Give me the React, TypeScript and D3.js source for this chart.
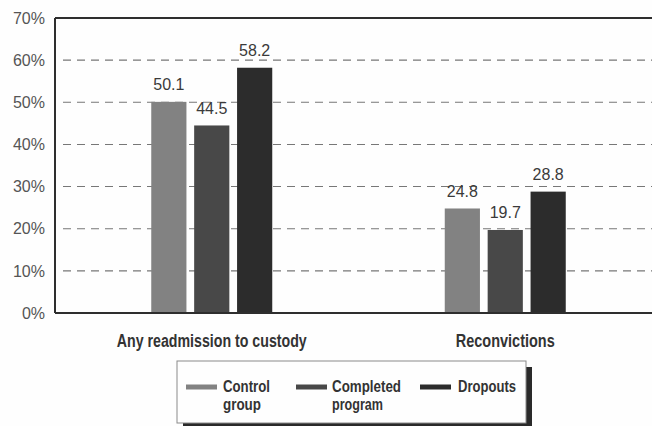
import React from "react";
import * as d3 from "d3";

// Outcome categories and the three comparison groups
const categories = ["Any readmission to custody", "Reconvictions"];
const seriesNames = ["Control group", "Completed program", "Dropouts"];
const controlValues = [50.1, 24.8];
const completedValues = [44.5, 19.7];
const dropoutValues = [58.2, 28.8];
const yTicks = [0, 10, 20, 30, 40, 50, 60, 70];
const legendLines = [["Control", "group"], ["Completed", "program"], ["Dropouts"]];

const seriesValues = [controlValues, completedValues, dropoutValues];
const seriesColors = ["#828282", "#484848", "#2c2c2c"];

const W = 652;
const H = 426;
const plotLeft = 55;
const plotTop = 18;
const plotBottom = 313;
const plotRight = 652;

const narrow = "'Liberation Sans Narrow', 'Arial Narrow', sans-serif";
const regular = "'Liberation Sans', Arial, sans-serif";

export default function App() {
  const y = d3.scaleLinear().domain([0, 70]).range([plotBottom, plotTop]);
  const x0 = d3.scaleBand<string>().domain(categories).range([65, plotRight]).padding(0);
  const groupWidth = 121;
  const x1 = d3.scaleBand<string>().domain(seriesNames).range([0, groupWidth]).paddingInner(0.18);

  const legendSwatchX = [186, 296, 420];
  const legendTextX = [223, 332, 458];
  const legendWidths = [[47, 38], [69, 51], [58]];
  const labelWidths = [190, 99];

  return (
    <svg
      width={W}
      height={H}
      style={{ position: "absolute", left: 0, top: 0, background: "#fefefe" }}
    >
      {/* dashed gridlines */}
      {yTicks
        .filter((t) => t > 0 && t < 70)
        .map((t) => (
          <line
            key={"g" + t}
            x1={plotLeft + 8}
            x2={plotRight}
            y1={y(t)}
            y2={y(t)}
            stroke="#777"
            strokeWidth={1.1}
            strokeDasharray="8,6"
          />
        ))}

      {/* bars */}
      {categories.map((cat, ci) => {
        const gx = (x0(cat) as number) + x0.bandwidth() / 2 - groupWidth / 2;
        return seriesNames.map((s, si) => {
          const v = seriesValues[si][ci];
          const bx = gx + (x1(s) as number);
          return (
            <g key={cat + s}>
              <rect
                x={bx}
                y={y(v)}
                width={x1.bandwidth()}
                height={plotBottom - y(v)}
                fill={seriesColors[si]}
              />
              <text
                x={bx + x1.bandwidth() / 2}
                y={y(v) - 11.5}
                textAnchor="middle"
                fontFamily={regular}
                fontSize={16}
                fill="#3a3a3a"
              >
                {v.toFixed(1)}
              </text>
            </g>
          );
        });
      })}

      {/* frame: top border, left axis, baseline */}
      <line x1={plotLeft} x2={plotRight} y1={plotTop} y2={plotTop} stroke="#2e2e2e" strokeWidth={2} />
      <line x1={plotLeft} x2={plotLeft} y1={plotTop} y2={plotBottom} stroke="#2e2e2e" strokeWidth={2} />
      <line x1={plotLeft} x2={plotRight} y1={plotBottom} y2={plotBottom} stroke="#2e2e2e" strokeWidth={2} />

      {/* y tick labels */}
      {yTicks.map((t) => (
        <text
          key={"t" + t}
          x={45}
          y={y(t)}
          dy="0.36em"
          textAnchor="end"
          fontFamily={regular}
          fontSize={16}
          fill="#555"
        >
          {t + "%"}
        </text>
      ))}

      {/* category labels */}
      {categories.map((cat, ci) => (
        <text
          key={"c" + cat}
          x={(x0(cat) as number) + x0.bandwidth() / 2}
          y={347}
          textAnchor="middle"
          fontFamily={narrow}
          fontWeight="bold"
          fontSize={18}
          fill="#333"
          textLength={labelWidths[ci]}
          lengthAdjust="spacingAndGlyphs"
        >
          {cat}
        </text>
      ))}

      {/* legend with drop shadow */}
      <rect x={183} y={367} width={349} height={62} fill="#2a2a2a" />
      <rect x={177} y={361} width={349} height={62} fill="#fefefe" stroke="#8a8a8a" strokeWidth={1} />
      {legendLines.map((lines, i) => (
        <g key={"l" + i}>
          <rect x={legendSwatchX[i]} y={384.5} width={31} height={5} fill={seriesColors[i]} />
          {lines.map((ln, j) => (
            <text
              key={ln}
              x={legendTextX[i]}
              y={392 + j * 18}
              fontFamily={narrow}
              fontWeight="bold"
              fontSize={17}
              fill="#333"
              textLength={legendWidths[i][j]}
              lengthAdjust="spacingAndGlyphs"
            >
              {ln}
            </text>
          ))}
        </g>
      ))}
    </svg>
  );
}
